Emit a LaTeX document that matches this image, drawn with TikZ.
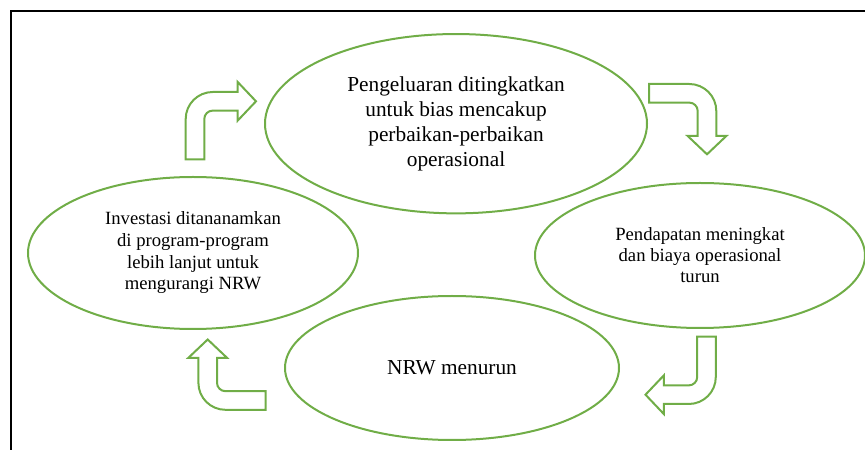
\documentclass[tikz,border=0pt]{standalone}
\usepackage{fontspec}
\setmainfont{Liberation Serif}
\usetikzlibrary{shapes.geometric}

\definecolor{leafgreen}{HTML}{70AD47}

\tikzset{
  stage/.style={ellipse, draw=leafgreen, line width=1.5pt, inner sep=0pt, align=center},
  turnarrow/.style={draw=leafgreen, line width=1.5pt, line join=miter},
}

\begin{document}
\begin{tikzpicture}[x=0.75pt, y=0.75pt]
  \useasboundingbox (0,0) rectangle (865,450);

  % Frame (right and bottom edges fall outside the page)
  \draw[line width=1.5pt] (11,-10) -- (11,439.3) -- (880,439.3);

  % Shape of the bent arrows
  \pgfmathsetmacro{\legup}{58}
  \pgfmathsetmacro{\legon}{61}
  \pgfmathsetmacro{\shaft}{9.3}
  \pgfmathsetmacro{\head}{19.3}
  \pgfmathsetmacro{\headlen}{18.3}

  % The four stages
  \node[stage, minimum width=286.5pt, minimum height=134.5pt,
    font=\fontsize{16}{18.75}\selectfont] (spend) at (456,326.3)
    {Pengeluaran ditingkatkan\\ untuk bias mencakup\\ perbaikan-perbaikan\\ operasional};
  \node[stage, minimum width=247.5pt, minimum height=108.75pt,
    font=\fontsize{14}{15.75}\selectfont] (revenue) at (700,194.5)
    {Pendapatan meningkat\\ dan biaya operasional\\ turun};
  \node[stage, minimum width=250.5pt, minimum height=108pt,
    font=\fontsize{16}{18}\selectfont] (nrw) at (452,82)
    {NRW menurun};
  \node[stage, minimum width=247.5pt, minimum height=114pt,
    font=\fontsize{14}{16.25}\selectfont] (invest) at (193,197)
    {Investasi ditananamkan\\ di program-program\\ lebih lanjut untuk\\ mengurangi NRW};

  % Bent arrows between the stages
  \foreach \px/\py/\turn in {195/290.7/0, 649/356.7/-90,
                             706.5/113.3/180, 265.7/49.5/90} {
    \begin{scope}[shift={(\px,\py)}, rotate=\turn]
      \draw[turnarrow] (-\shaft,0) -- (-\shaft,\legup+\shaft-27)
        arc[start angle=180, end angle=90, radius=27]
        -- (\legon-\headlen,\legup+\shaft) -- (\legon-\headlen,\legup+\head)
        -- (\legon,\legup) -- (\legon-\headlen,\legup-\head)
        -- (\legon-\headlen,\legup-\shaft) -- (\shaft+8.4,\legup-\shaft)
        arc[start angle=90, end angle=180, radius=8.4]
        -- (\shaft,0) -- cycle;
    \end{scope}
  }

\end{tikzpicture}
\end{document}
